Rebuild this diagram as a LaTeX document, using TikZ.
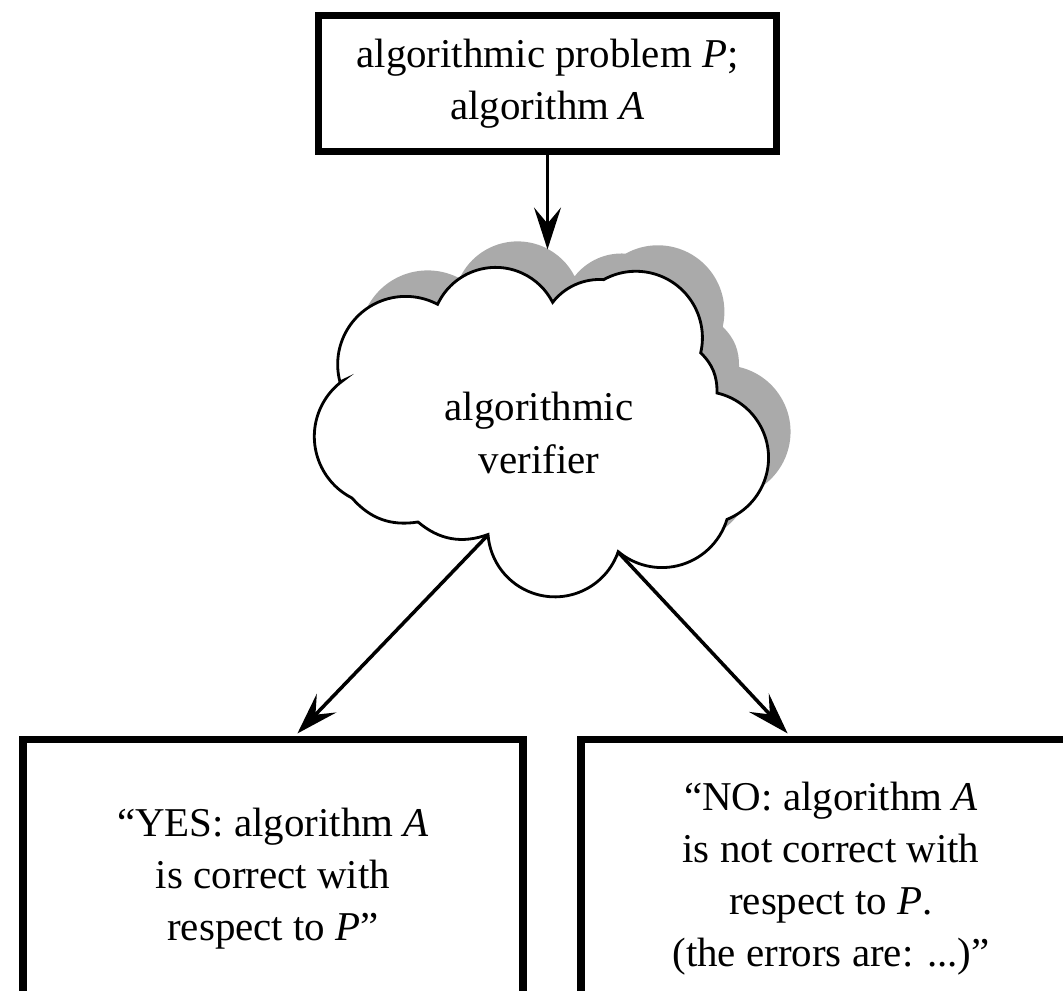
\documentclass[tikz,border=0pt]{standalone}
\usepackage{fontspec}
\setmainfont{Liberation Serif}
\usepackage{tikz}
\usetikzlibrary{arrows.meta}
\definecolor{shadowgray}{RGB}{170,170,170}

% outline of the verifier cloud, puff by puff
\def\cloudoutline{(6.80,12.18) arc[start angle=195,end angle=62,radius=1.36]
  arc[start angle=155,end angle=27,radius=1.28]
  arc[start angle=142,end angle=86,radius=1.19]
  arc[start angle=119,end angle=-13,radius=1.33]
  to[bend left=23] (14.34,11.96)
  arc[start angle=77,end angle=-68,radius=1.33]
  arc[start angle=-17,end angle=-130,radius=1.36]
  arc[start angle=-19,end angle=-176,radius=1.34]
  to[bend left=30] (8.36,9.38)
  to[bend left=29] (7.04,9.86)
  arc[start angle=243,end angle=126,radius=1.38] -- cycle}

\begin{document}
\begin{tikzpicture}
\tikzset{>={Stealth[length=8.4mm,width=5.4mm,inset=3.2mm]}}
\tikzstyle{txt} =[align=center,font=\fontsize{23.3}{29.6}\selectfont]
\tikzstyle{box} =[txt,draw,line width=4pt]
\tikzstyle{answer} =[box,minimum width=10cm,minimum height=5.58cm]

\useasboundingbox (0,0) rectangle (21.26,19.82);

\node[box,minimum width=9.16cm,minimum height=2.72cm](problem) at (10.95,18.15){algorithmic problem \textit{P};\\algorithm \textit{A}};
\node[answer](yes) at (5.46,2.24){“YES: algorithm \textit{A}\\is correct with\\respect to \textit{P}”};
\node[answer](no) at (16.62,2.24){“NO: algorithm \textit{A}\\is not correct with\\respect to \textit{P}.\\(the errors are: ...)”};

% cloud and its shadow
\fill[shadowgray,shift={(0.44,0.52)}] \cloudoutline;
\draw[fill=white,line width=1.6pt] \cloudoutline;
\node[txt](verifier) at (10.78,11.16){algorithmic\\verifier};

\coordinate (vtop) at (10.95,14.83);
\coordinate (vleft) at (9.76,9.12);
\coordinate (vright) at (12.36,8.78);

\draw [->,line width=2pt] (problem) -- (vtop);
\draw [->,line width=2pt,shorten >=2pt] (vleft) -- ([xshift=0.44cm]yes.north);
\draw [->,line width=2pt,shorten >=2pt] (vright) -- ([xshift=-0.82cm]no.north);
\end{tikzpicture}
\end{document}
